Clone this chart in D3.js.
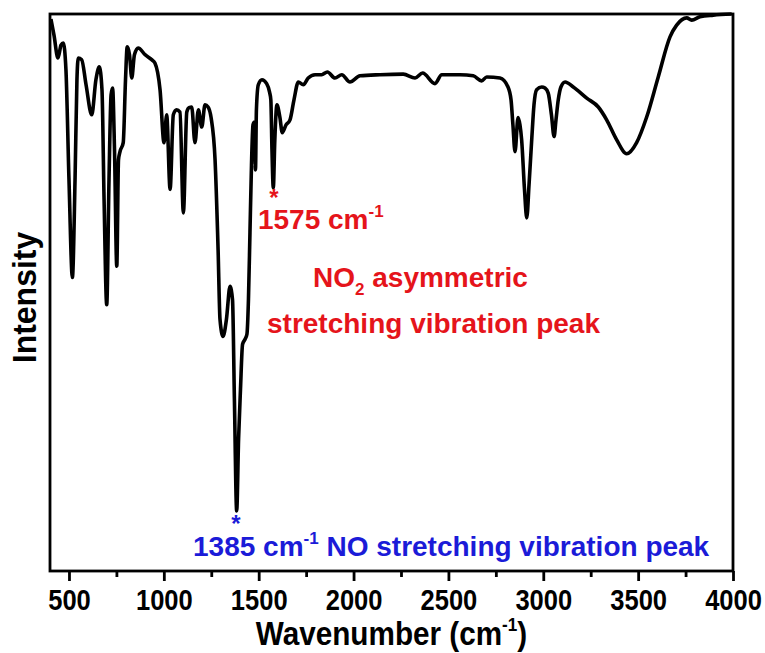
<!DOCTYPE html>
<html>
<head>
<meta charset="utf-8">
<script src="https://cdn.jsdelivr.net/npm/d3@7"></script>
<style>
  html, body { margin: 0; padding: 0; background: #fff; }
  svg { display: block; }
  text { font-family: "Liberation Sans", Arial, Helvetica, sans-serif; font-weight: bold; }
</style>
</head>
<body>
<svg id="chart" width="765" height="653"></svg>
<script>
// ---- data ----
const wavenumber = [405,421,442,458,470,484,500,518,532,542,549,567,590,620,642,660,674,685,699,711,722,730,740,752,761,769,786,798,807,819,831,845,865,901,936,953,980,1001,1015,1033,1050,1067,1085,1103,1121,1133,1147,1164,1182,1200,1217,1233,1249,1270,1286,1296,1312,1330,1349,1362,1372,1384,1394,1404,1415,1428,1438,1446,1454,1462,1470,1478,1483,1488,1498,1517,1542,1557,1564,1570,1577,1585,1596,1612,1624,1644,1665,1686,1709,1735,1761,1797,1832,1862,1902,1938,1981,2034,2139,2262,2324,2364,2429,2465,2561,2631,2675,2702,2772,2814,2830,2840,2851,2867,2877,2886,2901,2913,2925,2939,2951,2965,2992,3009,3026,3043,3057,3067,3079,3093,3115,3158,3229,3290,3334,3387,3440,3492,3545,3606,3668,3703,3756,3782,3826,3896,3993];
const intensity = [99.1,96.2,92.1,94.4,94.8,90.0,70.3,52.7,70.3,88.2,92.1,91.8,87.3,81.9,88.2,90.5,86.4,66.7,47.8,70.3,85.5,86.7,75.6,54.7,73.8,75.3,76.9,88.2,94.1,92.7,88.5,92.7,93.9,92.7,91.8,91.2,86.4,76.9,81.9,68.5,81.9,82.8,82.4,64.3,82.4,83.2,83.3,76.9,82.8,79.7,83.7,83.3,81.4,73.8,57.7,45.2,42.1,45.2,51.1,48.7,30.8,10.8,23.7,32.6,40.7,41.6,42.5,48.7,60.8,72.9,80.1,80.6,72.0,82.8,87.3,88.2,87.5,86.0,84.6,75.6,68.8,77.4,83.7,81.4,78.7,80.1,81.0,84.6,87.8,87.3,88.5,89.1,89.1,89.6,88.5,89.1,87.8,88.9,89.1,89.2,88.5,89.4,87.5,89.1,89.1,88.9,88.0,88.7,88.5,86.9,84.6,80.1,75.3,81.4,80.1,77.4,68.5,63.4,69.4,77.4,83.7,86.4,86.9,86.7,85.8,81.9,78.0,81.0,84.6,86.9,87.8,86.9,84.9,83.3,81.0,77.4,74.9,76.9,81.5,88.7,95.9,98.0,99.3,98.9,99.5,99.8,100];
const majorTicks = [500,1000,1500,2000,2500,3000,3500,4000];
const minorTicks = [750,1250,1750,2250,2750,3250,3750];
const xDomain = [400, 4000];
const yDomain = [0, 100];
const peakNO2 = 1575;
const peakNO = 1385;

// ---- layout ----
const svg = d3.select("#chart");
const L = 50, R = 733, T = 14, B = 571;
const x = d3.scaleLinear().domain(xDomain).range([L, R]);
const y = d3.scaleLinear().domain(yDomain).range([B, T]);

const data = wavenumber.map((w, i) => [w, intensity[i]]);

// spectrum
svg.append("path")
  .datum(data)
  .attr("fill", "none")
  .attr("stroke", "#000")
  .attr("stroke-width", 3.6)
  .attr("stroke-linejoin", "round")
  .attr("d", d3.line().x(d => x(d[0])).y(d => y(d[1])).curve(d3.curveMonotoneX));

// frame
svg.append("rect")
  .attr("x", x(xDomain[0])).attr("y", y(yDomain[1]))
  .attr("width", x(xDomain[1]) - x(xDomain[0]))
  .attr("height", y(yDomain[0]) - y(yDomain[1]))
  .attr("fill", "none").attr("stroke", "#000").attr("stroke-width", 2.8);

// bottom axis: major
const gx = svg.append("g").attr("transform", `translate(0,${B})`)
  .call(d3.axisBottom(x).tickValues(majorTicks).tickSize(10).tickPadding(8).tickFormat(d3.format("d")));
gx.select(".domain").remove();
gx.selectAll(".tick line").attr("stroke", "#000").attr("stroke-width", 2.8);
gx.selectAll(".tick text")
  .attr("fill", "#000")
  .style("font-size", "29px")
  .style("font-family", '"Liberation Sans", Arial, sans-serif')
  .style("font-weight", "bold")
  .attr("transform", "scale(0.88,1)");

// bottom axis: minor
const gm = svg.append("g").attr("transform", `translate(0,${B})`)
  .call(d3.axisBottom(x).tickValues(minorTicks).tickSize(6).tickFormat(""));
gm.select(".domain").remove();
gm.selectAll(".tick line").attr("stroke", "#000").attr("stroke-width", 2.8);

// x title
const xt = svg.append("text")
  .attr("transform", `translate(${(L + R) / 2},645) scale(0.9,1)`)
  .attr("text-anchor", "middle")
  .style("font-size", "33px")
  .attr("fill", "#000");
xt.append("tspan").text("Wavenumber (cm");
xt.append("tspan").attr("dy", -14).style("font-size", "19px").text("-1");
xt.append("tspan").attr("dy", 14).text(")");

// y title
svg.append("text")
  .attr("transform", `translate(36,${(T + B) / 2 + 5}) rotate(-90) scale(0.94,1)`)
  .attr("text-anchor", "middle")
  .style("font-size", "34px")
  .attr("fill", "#000")
  .text("Intensity");

// annotations
const red = "#e5141b", blue = "#1b1bd8";
svg.append("text").attr("x", x(peakNO2) + 1).attr("y", 206).attr("text-anchor", "middle")
  .style("font-size", "24px").attr("fill", red).text("*");
const t1 = svg.append("text").attr("x", x(peakNO2) - 15).attr("y", 229)
  .style("font-size", "28px").attr("fill", red);
t1.append("tspan").text(peakNO2 + " cm");
t1.append("tspan").attr("dy", -12).style("font-size", "17px").text("-1");

const t2 = svg.append("text").attr("x", 313).attr("y", 287)
  .style("font-size", "28px").attr("fill", red);
t2.append("tspan").text("NO");
t2.append("tspan").attr("dy", 8).style("font-size", "17px").text("2");
t2.append("tspan").attr("dy", -8).text(" asymmetric");

svg.append("text").attr("x", 267).attr("y", 333)
  .style("font-size", "28px").attr("fill", red).text("stretching vibration peak");

svg.append("text").attr("x", x(peakNO) - 1).attr("y", 532).attr("text-anchor", "middle")
  .style("font-size", "24px").attr("fill", blue).text("*");
const t3 = svg.append("text").attr("x", 193).attr("y", 556)
  .style("font-size", "28px").attr("fill", blue);
t3.append("tspan").text(peakNO + " cm");
t3.append("tspan").attr("dy", -12).style("font-size", "17px").text("-1");
t3.append("tspan").attr("dy", 12).text(" NO stretching vibration peak");
</script>
</body>
</html>
